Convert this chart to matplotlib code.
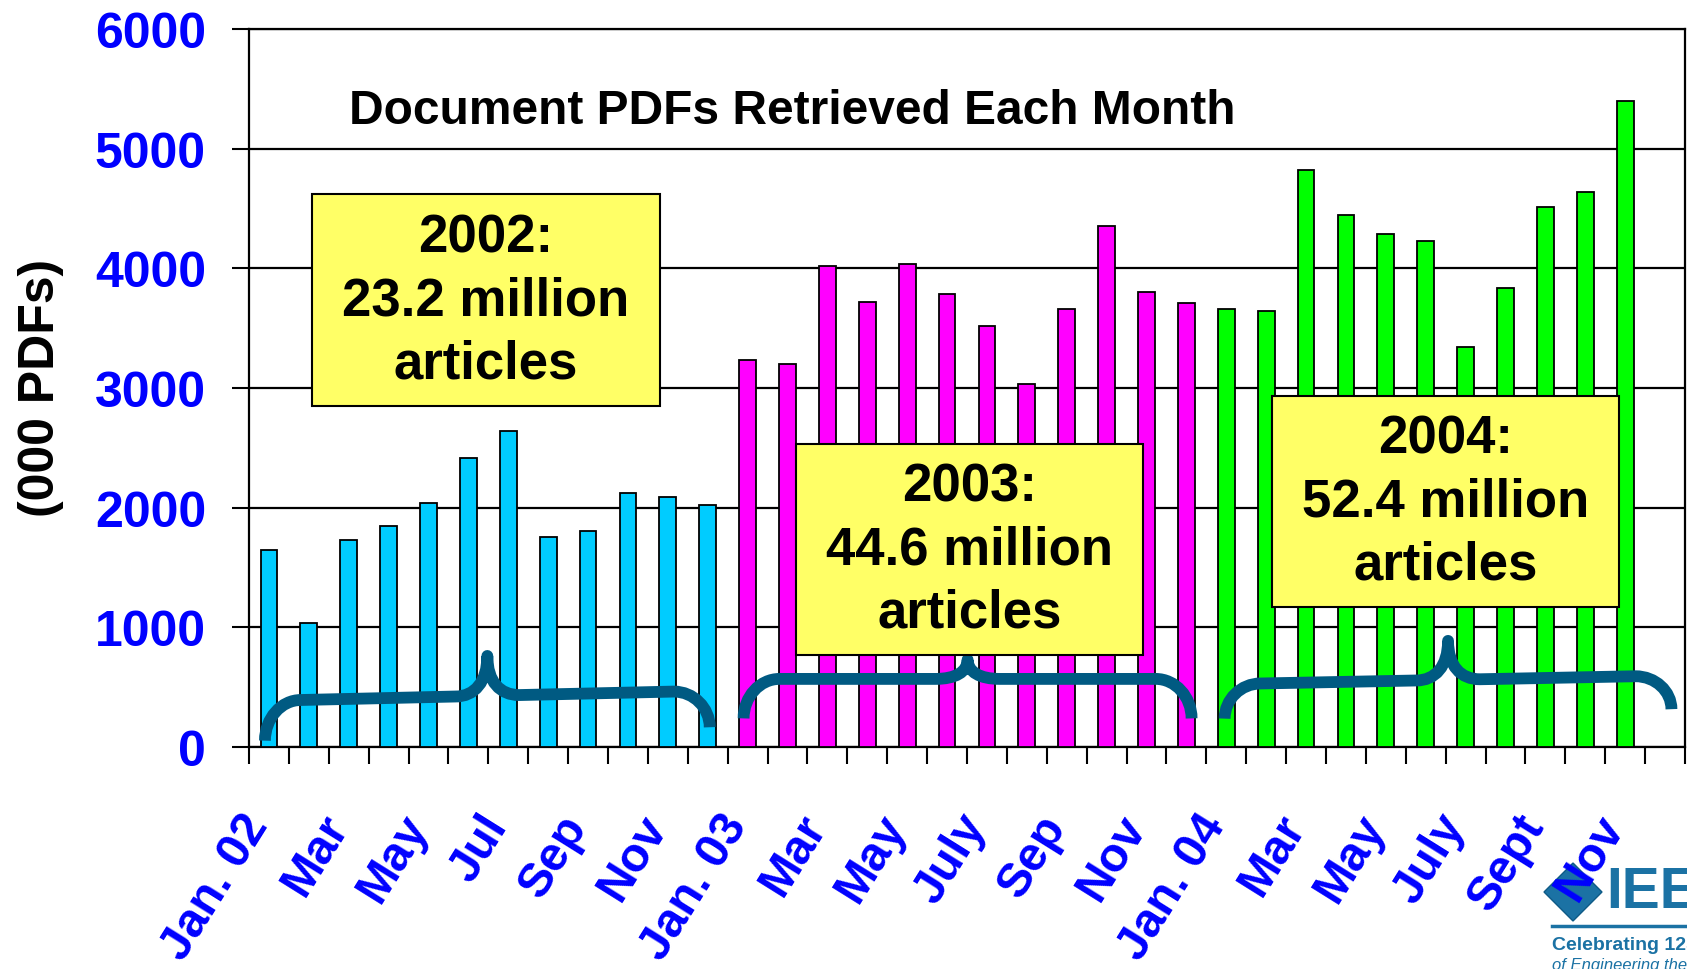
import numpy as np
import matplotlib.pyplot as plt
from matplotlib.patches import Rectangle, PathPatch, Polygon
from matplotlib.path import Path
from matplotlib.lines import Line2D

plt.rcParams['font.family'] = ['Liberation Sans', 'DejaVu Sans']

# monthly document PDFs retrieved (thousands)
pdfs_2002 = [1644, 1036, 1733, 1844, 2036, 2411, 2644, 1753, 1806, 2122, 2089, 2019]
pdfs_2003 = [3232, 3198, 4021, 3717, 4036, 3789, 3519, 3037, 3660, 4357, 3806, 3714]
pdfs_2004 = [3658, 3641, 4822, 4442, 4288, 4230, 3341, 3836, 4515, 4642, 5397]

year_notes = ['2002:\n23.2 million\narticles',
              '2003:\n44.6 million\narticles',
              '2004:\n52.4 million\narticles']
month_labels = ['Jan. 02', 'Mar', 'May', 'Jul', 'Sep', 'Nov',
                'Jan. 03', 'Mar', 'May', 'July', 'Sep', 'Nov',
                'Jan. 04', 'Mar', 'May', 'July', 'Sept', 'Nov']
y_ticks = [0, 1000, 2000, 3000, 4000, 5000, 6000]
n_slots = 36

BLUE = '#0000FF'
BRACE = '#005A82'
LOGO = '#1B72A4'


def brace(ax, x0, x1, y_l, y_r, arm_l, arm_r, peak):
    # curly brace, drawn in data coords
    xm = (x0 + x1) / 2
    rx, cx, k = 0.9, 0.8, 0.55

    def arm(x):
        return arm_l + (arm_r - arm_l) * (x - x0) / (x1 - x0)

    a1, a2, a3, a4 = arm(x0 + rx), arm(xm - cx), arm(xm + cx), arm(x1 - rx)
    am = arm(xm)
    verts = [
        (x0, y_l),
        (x0, y_l + k * (a1 - y_l)), (x0 + (1 - k) * rx, a1), (x0 + rx, a1),
        (xm - cx, a2),
        (xm - cx * 0.4, a2), (xm, am + 0.35 * (peak - am)), (xm, peak),
        (xm, am + 0.35 * (peak - am)), (xm + cx * 0.4, a3), (xm + cx, a3),
        (x1 - rx, a4),
        (x1 - (1 - k) * rx, a4), (x1, y_r + k * (a4 - y_r)), (x1, y_r),
    ]
    codes = [Path.MOVETO,
             Path.CURVE4, Path.CURVE4, Path.CURVE4,
             Path.LINETO,
             Path.CURVE4, Path.CURVE4, Path.CURVE4,
             Path.CURVE4, Path.CURVE4, Path.CURVE4,
             Path.LINETO,
             Path.CURVE4, Path.CURVE4, Path.CURVE4]
    ax.add_patch(PathPatch(Path(verts, codes), fill=False, edgecolor=BRACE,
                           lw=8.5, capstyle='butt', joinstyle='round', zorder=4))


fig = plt.figure(figsize=(16.87, 9.70), dpi=100)
ax = fig.add_axes([249 / 1687, 222 / 970, 1436 / 1687, 718 / 970])
ax.set_zorder(5)

x02 = np.arange(len(pdfs_2002))
x03 = np.arange(len(pdfs_2003)) + 12
x04 = np.arange(len(pdfs_2004)) + 24
bar_kw = dict(width=0.42, edgecolor='black', linewidth=1.3, zorder=3)
ax.bar(x02, pdfs_2002, color='#00CCFF', **bar_kw)
ax.bar(x03, pdfs_2003, color='#FF00FF', **bar_kw)
ax.bar(x04, pdfs_2004, color='#00FF00', **bar_kw)

ax.set_xlim(-0.5, n_slots - 0.5)
ax.set_ylim(0, 6000)

# axes styling
ax.set_yticks(y_ticks)
ax.set_yticklabels([str(v) for v in y_ticks], color=BLUE, fontsize=36, fontweight='bold')
ax.set_xticks(np.arange(-0.5, n_slots, 1))
ax.set_xticklabels([])
ax.set_xticks(np.arange(0, n_slots, 2), minor=True)
ax.set_xticklabels(month_labels, minor=True, rotation=58, ha='right', va='baseline',
                   rotation_mode='anchor', color=BLUE, fontsize=34.5, fontweight='bold')
ax.tick_params(axis='y', length=12, width=1.5, pad=19)
ax.tick_params(axis='x', which='major', length=12, width=1.5)
ax.tick_params(axis='x', which='minor', length=0, pad=56)
ax.yaxis.grid(True, color='black', lw=1.6)
ax.set_axisbelow(True)
for s in ax.spines.values():
    s.set_linewidth(1.6)

# braces under each year
brace(ax, -0.1, 11.05, 53, 165, 386, 470, 761)
brace(ax, 11.9, 23.13, 239, 239, 569, 569, 730)
brace(ax, 23.96, 35.16, 237, 316, 525, 597, 887)

# yellow notes
boxes = [(1.08, 9.8, 2850, 4617), (13.21, 21.91, 767, 2533), (25.14, 33.84, 1167, 2933)]
for (bx0, bx1, by0, by1), note in zip(boxes, year_notes):
    ax.add_patch(Rectangle((bx0, by0), bx1 - bx0, by1 - by0, facecolor='#FFFF66',
                           edgecolor='black', lw=1.5, zorder=6))
    ax.text((bx0 + bx1) / 2, (by0 + by1) / 2, note, ha='center', va='center',
            fontsize=38, fontweight='bold', linespacing=1.33, zorder=7)

fig.text(792 / 1687, 1 - 111 / 970, 'Document PDFs Retrieved Each Month',
         ha='center', va='center', fontsize=34.5, fontweight='bold', zorder=6)
fig.text(41 / 1687, 1 - 388 / 970, '(000 PDFs)', rotation=90, ha='center', va='center',
         fontsize=36, fontweight='bold')

# IEEE logo, partly off the page, below the tick labels
cx, cy, r = 1573 / 1687, 1 - 893 / 970, 29
fig.add_artist(Polygon([(cx - r / 1687, cy), (cx, cy + r / 970), (cx + r / 1687, cy),
                        (cx, cy - r / 970)], closed=True, transform=fig.transFigure,
                       facecolor=LOGO, edgecolor='#0E5A86', lw=1, zorder=1))
fig.text(1606 / 1687, 1 - 893 / 970, 'IEEE', color=LOGO, fontsize=41, fontweight='bold',
         family=['Liberation Sans Narrow', 'Liberation Sans'], ha='left', va='center', zorder=1)
fig.add_artist(Line2D([1552 / 1687, 1.0], [1 - 927 / 970, 1 - 927 / 970], color=LOGO, lw=2.5,
                      transform=fig.transFigure, zorder=1))
fig.text(1552 / 1687, 1 - 946 / 970, 'Celebrating 125 Years', color=LOGO, fontsize=14,
         fontweight='bold', family=['Liberation Sans Narrow', 'Liberation Sans'],
         ha='left', va='center', zorder=1)
fig.text(1552 / 1687, 1 - 966 / 970, 'of Engineering the Future', color=LOGO, fontsize=12,
         style='italic', family=['Liberation Sans Narrow', 'Liberation Sans'],
         ha='left', va='center', zorder=1)

fig.savefig('out.png', dpi=100)
